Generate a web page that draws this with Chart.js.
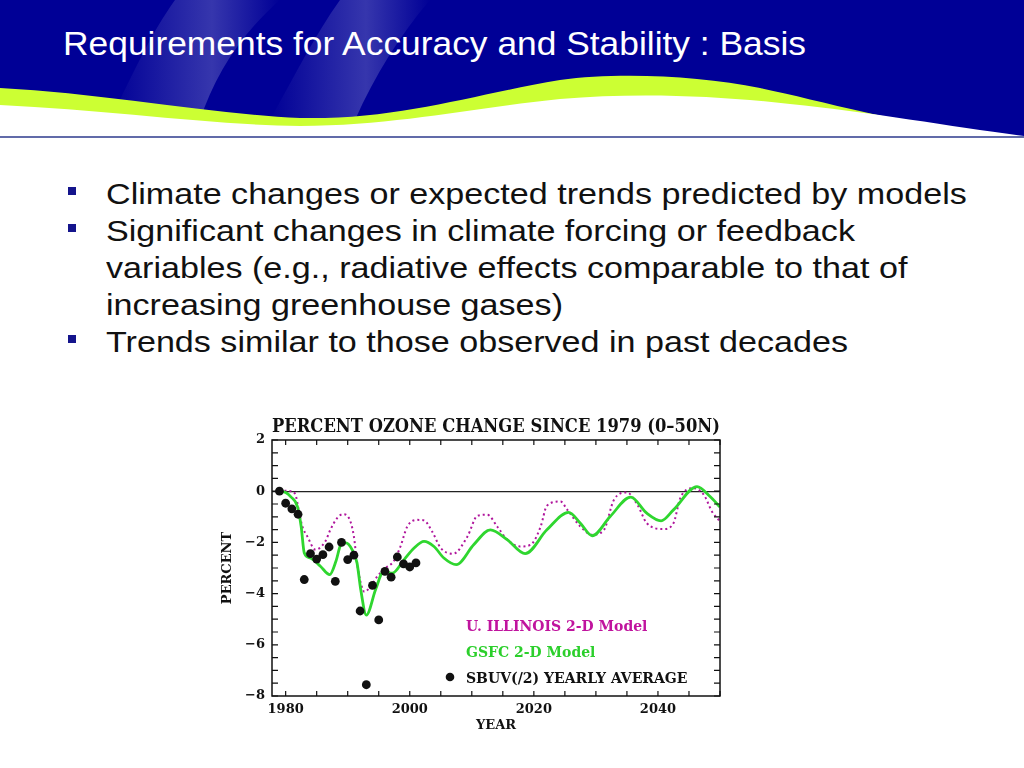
<!DOCTYPE html>
<html>
<head>
<meta charset="utf-8">
<title>Requirements for Accuracy and Stability : Basis</title>
<script src="https://cdn.jsdelivr.net/npm/chart.js@4.4.1/dist/chart.umd.min.js"></script>
<style>
    html, body { margin: 0; padding: 0; background: #fff; }
    body { width: 1024px; height: 768px; position: relative; overflow: hidden; font-family: "Liberation Sans", Arial, sans-serif; }
    #header { position: absolute; left: 0; top: 0; }
    .line { position: absolute; left: 106px; white-space: nowrap; font-size: 30px; line-height: 37px; color: #111;
        transform: scaleX(1.137); transform-origin: left center; }
    .sq { position: absolute; left: 68px; width: 8px; height: 8px; background: #14148c; }
    #chartBox { position: absolute; left: 210px; top: 405px; width: 540px; height: 340px; }
</style>
</head>
<body>
<svg id="header" width="1024" height="140" viewBox="0 0 1024 140">
    <defs>
        <linearGradient id="swoosh" x1="0" y1="0" x2="1" y2="0">
            <stop offset="0" stop-color="#5a5abc" stop-opacity="0"/>
            <stop offset="0.6" stop-color="#5a5abc" stop-opacity="0.6"/>
            <stop offset="1" stop-color="#5a5abc" stop-opacity="0"/>
        </linearGradient>
    </defs>
    <rect x="0" y="0" width="1024" height="140" fill="#000096"/>
    <path d="M175,0 L280,0 C240,35 215,75 200,120 L110,120 C135,70 150,35 175,0 Z" fill="url(#swoosh)"/>
    <path d="M340,0 L430,0 C400,35 375,75 355,120 L270,120 C295,75 315,35 340,0 Z" fill="url(#swoosh)"/>
    <path d="M0,88 C110,94 210,114 300,118 C400,120 470,95 560,80 C620,72 700,76 760,88 C820,100 900,125 1024,140 L0,140 Z" fill="#ccff33"/>
    <path d="M0,105 C110,110 210,125 300,126 C400,125 470,108 560,99 C640,92 720,96 790,104 C870,112 960,128 1024,136 L1024,140 L0,140 Z" fill="#ffffff"/>
    <line x1="0" y1="137" x2="1024" y2="137" stroke="#2c3a8c" stroke-width="1.5"/>
    <text x="63" y="55" fill="#ffffff" font-family="Liberation Sans, Arial, sans-serif" font-size="32.5" textLength="743" lengthAdjust="spacingAndGlyphs">Requirements for Accuracy and Stability : Basis</text>
</svg>

<div class="sq" style="top:187px"></div>
<div class="line" style="top:175px">Climate changes or expected trends predicted by models</div>
<div class="sq" style="top:224px"></div>
<div class="line" style="top:212px">Significant changes in climate forcing or feedback</div>
<div class="line" style="top:249px">variables (e.g., radiative effects comparable to that of</div>
<div class="line" style="top:286px">increasing greenhouse gases)</div>
<div class="sq" style="top:335px"></div>
<div class="line" style="top:323px">Trends similar to those observed in past decades</div>

<div id="chartBox"><canvas id="ozoneChart"></canvas></div>

<script>
// SBUV(/2) yearly averages
const sbuvYears = [1979, 1980, 1981, 1982, 1983, 1984, 1985, 1986, 1987, 1988, 1989, 1990,
    1991, 1992, 1993, 1994, 1995, 1996, 1997, 1998, 1999, 2000, 2001];
const sbuvValues = [0, -0.47, -0.69, -0.9, -3.45, -2.44, -2.65, -2.48, -2.18, -3.52, -2.0, -2.67,
    -2.5, -4.68, -7.56, -3.68, -5.03, -3.13, -3.36, -2.57, -2.84, -2.96, -2.8];

// GSFC 2-D model
const gsfcYears = [1979, 1980, 1980.8, 1981.9, 1982.5, 1983, 1984, 1985.6, 1987.1, 1988.1, 1988.9,
    1989.7, 1990.7, 1991.5, 1992.1, 1993, 1994.5, 1995.8, 1997.2, 1999.1, 2000.7, 2002.3, 2003.9,
    2005.5, 2007.5, 2010.3, 2013, 2015.7, 2018.6, 2022.1, 2025.6, 2027.5, 2029.4, 2032.3, 2035.6,
    2038.2, 2040.5, 2042.5, 2046.3, 2048.4, 2050];
const gsfcValues = [0, -0.05, -0.21, -0.6, -1.38, -2.41, -2.61, -2.93, -3.26, -2.74, -2.09,
    -2.02, -2.28, -2.8, -3.84, -4.84, -3.84, -3.13, -3.2, -2.67, -2.22, -1.96, -2.16,
    -2.61, -2.87, -2.09, -1.51, -1.89, -2.44, -1.51, -0.83, -1.25, -1.74, -0.99, -0.23,
    -0.86, -1.16, -0.73, 0.18, -0.21, -0.62];

// U. Illinois 2-D model
const uiucYears = [1979, 1980.8, 1981.6, 1982.1, 1982.7, 1983.5, 1984.8, 1986.4, 1987.2, 1988.3,
    1989.2, 1990.2, 1991, 1991.5, 1992.1, 1992.7, 1993.7, 1994.8, 1996.1, 1997.4, 1998.5, 1999.6,
    2001.2, 2002.3, 2003.6, 2005, 2007, 2009.3, 2010.9, 2012.5, 2014.1, 2015.7, 2017.8, 2019.5,
    2021.1, 2022.1, 2024.3, 2025.4, 2027.5, 2029.4, 2031.3, 2032.9, 2035, 2036.7, 2038.2, 2040.9,
    2042.5, 2043.6, 2045.7, 2047.4, 2048.7, 2050];
const uiucValues = [0.02, 0, -0.15, -0.73, -1.38, -1.77, -2.28, -1.96, -1.51, -1.05,
    -0.9, -1.05, -1.77, -2.8, -3.58, -3.93, -3.71, -3.32, -3.0, -2.74, -2.16, -1.38,
    -1.12, -1.14, -1.57, -2.22, -2.44, -1.77, -0.96, -0.92, -1.38, -1.89, -2.16, -2.09,
    -1.38, -0.57, -0.4, -0.73, -1.38, -1.7, -1.51, -0.34, -0.05, -0.53, -1.25, -1.48,
    -1.25, -0.27, 0.12, -0.14, -0.79, -1.18];

const xTickYears = [1980, 1985, 1990, 1995, 2000, 2005, 2010, 2015, 2020, 2025, 2030, 2035, 2040, 2045, 2050];
const xLabelYears = [1980, 2000, 2020, 2040];
const yLabelValues = [2, 0, -2, -4, -6, -8];

const serif = '"DejaVu Serif", "Liberation Serif", serif';
const tickFont = { family: serif, size: 13, weight: 'bold' };
const labelFont = { family: serif, size: 13, weight: 'bold' };

const toPoints = (xs, ys) => xs.map((x, i) => ({ x, y: ys[i] }));
const withMinus = (v) => (v < 0 ? '\u2212' + Math.abs(v) : String(v));

// Frame round the plot with inward tick marks on all four sides
const frameTicks = {
    id: 'frameTicks',
    afterDatasetsDraw(chart) {
        const { ctx, chartArea: a, scales: { x, y } } = chart;
        ctx.save();
        ctx.strokeStyle = '#111';
        ctx.lineWidth = 1.5;
        ctx.strokeRect(a.left, a.top, a.right - a.left, a.bottom - a.top);
        ctx.lineWidth = 1.2;
        ctx.beginPath();
        x.ticks.forEach((t) => {
            const px = x.getPixelForValue(t.value);
            ctx.moveTo(px, a.top);
            ctx.lineTo(px, a.top + 5);
            ctx.moveTo(px, a.bottom);
            ctx.lineTo(px, a.bottom - 5);
        });
        y.ticks.forEach((t) => {
            const py = y.getPixelForValue(t.value);
            ctx.moveTo(a.left, py);
            ctx.lineTo(a.left + 6, py);
            ctx.moveTo(a.right, py);
            ctx.lineTo(a.right - 6, py);
        });
        ctx.stroke();
        ctx.restore();
    }
};

// Legend written inside the plot, lower right
const insetLegend = {
    id: 'insetLegend',
    afterDatasetsDraw(chart) {
        const { ctx, chartArea: a } = chart;
        ctx.save();
        ctx.font = 'bold 14px ' + serif;
        ctx.textBaseline = 'middle';
        ctx.textAlign = 'left';
        chart.data.datasets.forEach((ds, i) => {
            const ty = a.top + 187 + i * 26;
            ctx.fillStyle = ds.legendColor;
            ctx.fillText(ds.label, a.left + 194, ty);
            if (ds.showLine === false) {
                ctx.beginPath();
                ctx.arc(a.left + 178, ty - 2, 4.3, 0, Math.PI * 2);
                ctx.fillStyle = ds.pointBackgroundColor;
                ctx.fill();
            }
        });
        ctx.restore();
    }
};

new Chart(document.getElementById('ozoneChart'), {
    type: 'line',
    data: {
        datasets: [{
            label: 'U. ILLINOIS 2-D Model',
            data: toPoints(uiucYears, uiucValues),
            borderColor: '#b0169c',
            legendColor: '#c0149e',
            borderWidth: 2,
            borderDash: [2, 3],
            pointRadius: 0,
            cubicInterpolationMode: 'monotone',
            order: 3
        }, {
            label: 'GSFC 2-D Model',
            data: toPoints(gsfcYears, gsfcValues),
            borderColor: '#2fd62f',
            legendColor: '#2ccf2c',
            borderWidth: 2.8,
            pointRadius: 0,
            cubicInterpolationMode: 'monotone',
            order: 2
        }, {
            label: 'SBUV(/2) YEARLY AVERAGE',
            data: toPoints(sbuvYears, sbuvValues),
            showLine: false,
            legendColor: '#111',
            pointRadius: 4.4,
            pointBackgroundColor: '#111',
            pointBorderWidth: 0,
            order: 1
        }]
    },
    options: {
        responsive: true,
        maintainAspectRatio: false,
        animation: false,
        layout: { padding: { left: 0, right: 30, top: 0, bottom: 0 } },
        plugins: {
            legend: { display: false },
            tooltip: { enabled: false },
            title: {
                display: true,
                text: 'PERCENT OZONE CHANGE SINCE 1979 (0\u201350N)',
                fullSize: false,
                color: '#111',
                font: { family: serif, size: 18, weight: 'bold' },
                padding: { top: 12, bottom: 1.4 }
            }
        },
        scales: {
            x: {
                type: 'linear',
                min: 1977.8,
                max: 2050,
                afterBuildTicks: (scale) => {
                    scale.ticks = xTickYears.map((v) => ({ value: v }));
                },
                afterFit: (scale) => { scale.height = 49; },
                border: { display: false },
                grid: { display: false, drawTicks: false },
                ticks: {
                    autoSkip: false,
                    maxRotation: 0,
                    padding: 6,
                    color: '#111',
                    font: tickFont,
                    callback: (v) => (xLabelYears.includes(v) ? String(v) : '')
                },
                title: {
                    display: true,
                    text: 'YEAR',
                    color: '#111',
                    font: labelFont,
                    padding: { top: 0, bottom: 12 }
                }
            },
            y: {
                min: -8,
                max: 2,
                afterFit: (scale) => { scale.width = 62; },
                border: { display: false },
                grid: {
                    drawTicks: false,
                    color: (c) => (c.tick && c.tick.value === 0 ? '#222' : 'rgba(0,0,0,0)'),
                    lineWidth: 1.3
                },
                ticks: {
                    stepSize: 0.5,
                    autoSkip: false,
                    padding: 7,
                    color: '#111',
                    font: tickFont,
                    callback: (v) => (yLabelValues.includes(v) ? withMinus(v) : '')
                },
                title: {
                    display: true,
                    text: 'PERCENT',
                    color: '#111',
                    font: labelFont,
                    padding: { top: 10, bottom: 0 }
                }
            }
        }
    },
    plugins: [frameTicks, insetLegend]
});
</script>
</body>
</html>
